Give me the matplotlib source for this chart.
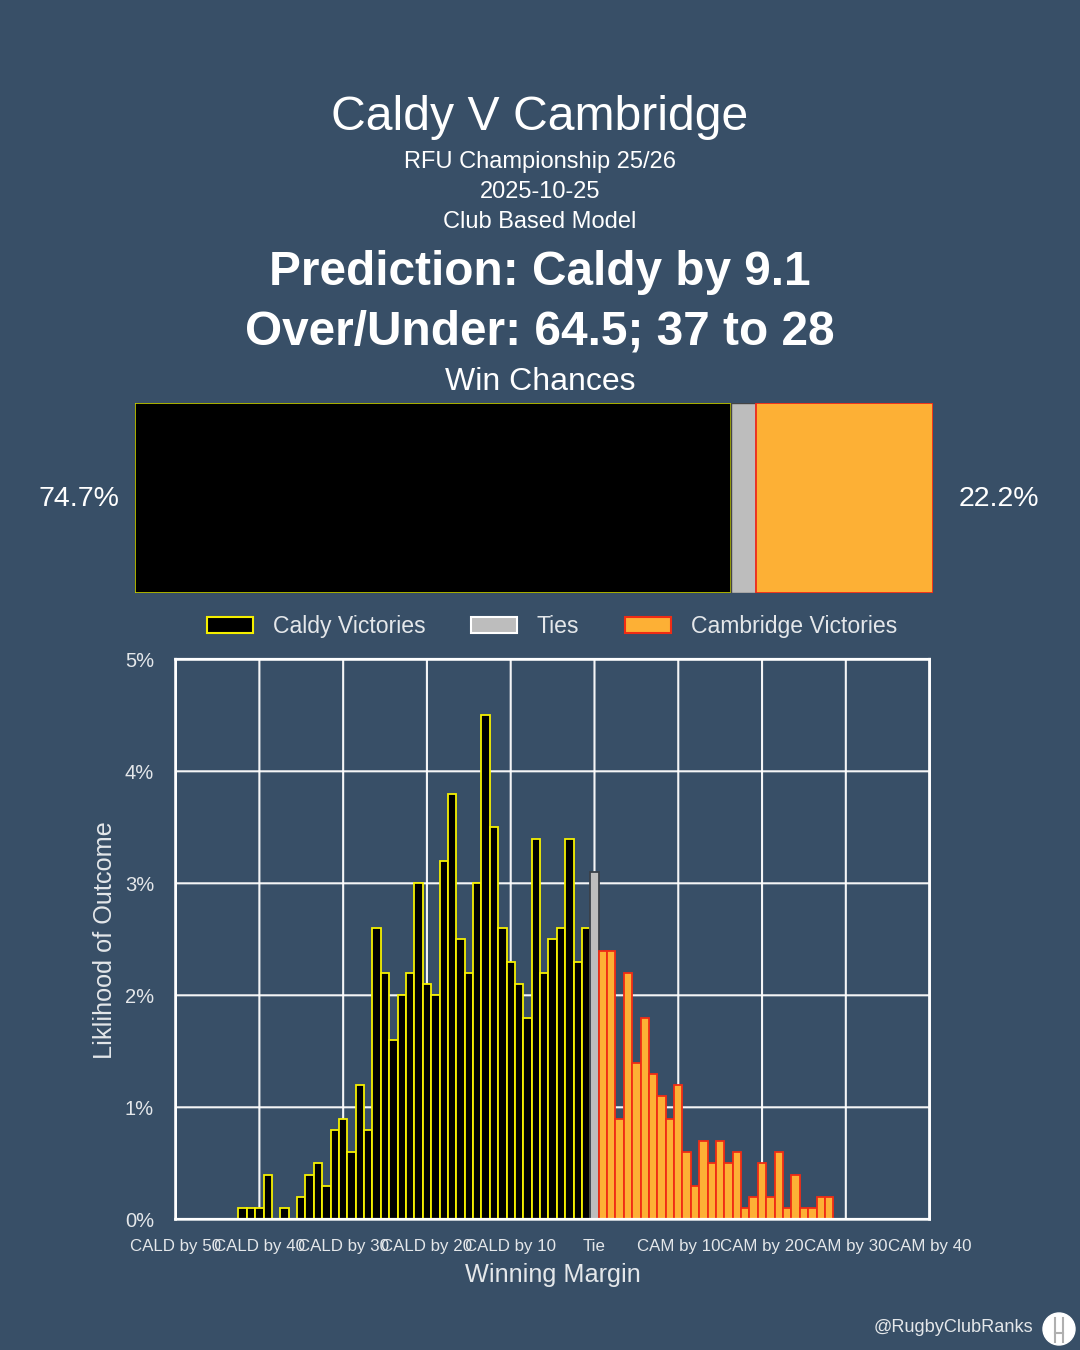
import matplotlib
matplotlib.use("Agg")
import matplotlib.pyplot as plt
from matplotlib.patches import Circle, Patch
from matplotlib.lines import Line2D

plt.rcParams['font.family'] = ['Liberation Sans', 'DejaVu Sans']

title = "Caldy V Cambridge"
subtitles = ["RFU Championship 25/26", "2025-10-25", "Club Based Model"]
headlines = ["Prediction: Caldy by 9.1", "Over/Under: 64.5; 37 to 28"]
home_name, away_name = "Caldy", "Cambridge"
home_pct, tie_pct, away_pct = 74.7, 3.1, 22.2

home_margins = list(range(-42, 0))
home_values = [0.1, 0.1, 0.1, 0.4, 0.0, 0.1, 0.0, 0.2, 0.4, 0.5, 0.3, 0.8, 0.9, 0.6,
               1.2, 0.8, 2.6, 2.2, 1.6, 2.0, 2.2, 3.0, 2.1, 2.0, 3.2, 3.8, 2.5, 2.2,
               3.0, 4.5, 3.5, 2.6, 2.3, 2.1, 1.8, 3.4, 2.2, 2.5, 2.6, 3.4, 2.3, 2.6]
tie_margin = [0]
tie_value = [3.1]
away_margins = list(range(1, 29))
away_values = [2.4, 2.4, 0.9, 2.2, 1.4, 1.8, 1.3, 1.1, 0.9, 1.2, 0.6, 0.3, 0.7, 0.5,
               0.7, 0.5, 0.6, 0.1, 0.2, 0.5, 0.2, 0.6, 0.1, 0.4, 0.1, 0.1, 0.2, 0.2]
x_ticks = [-50, -40, -30, -20, -10, 0, 10, 20, 30, 40]
x_labels = ["CALD by 50", "CALD by 40", "CALD by 30", "CALD by 20", "CALD by 10",
            "Tie", "CAM by 10", "CAM by 20", "CAM by 30", "CAM by 40"]
y_ticks = [0, 1, 2, 3, 4, 5]

BG = "#384f67"
TXT = "#ffffff"
SOFT = "#e4e7ea"
W, H = 1080, 1350

fig = plt.figure(figsize=(W / 100, H / 100), dpi=100, facecolor=BG)

def fx(px): return px / W
def fy(py): return 1 - py / H
def axes_px(l, t, r, b):
    return fig.add_axes([fx(l), fy(b), (r - l) / W, (b - t) / H])

def label(px, py, s, size, weight="normal", color=TXT, ha="center"):
    fig.text(fx(px), fy(py), s, fontsize=size, fontweight=weight, color=color,
             ha=ha, va="baseline")

label(540, 130, title, 34.7)
for py, s in zip([168, 198, 228], subtitles):
    label(540, py, s, 17.0)
for py, s in zip([285, 345], headlines):
    label(539.5, py, s, 34.4, weight="bold")
label(540, 390, "Win Chances", 23)
label(79, 506, f"{home_pct}%", 20.5)
label(999, 506, f"{away_pct}%", 20.5)

# Win chance bar
axb = axes_px(135, 403, 933, 592.5)
axb.barh([0], [home_pct], left=0, height=1, color="black", edgecolor="#c8d000", linewidth=1.2)
axb.barh([0], [tie_pct], left=home_pct, height=1, color="#bdbdbd", edgecolor="#444444", linewidth=1)
axb.barh([0], [away_pct], left=home_pct + tie_pct, height=1, color="#fdb035", edgecolor="#ee2a1a", linewidth=1.3)
axb.set_xlim(0, 100)
axb.set_ylim(-0.5, 0.5)
axb.axis("off")

# Histogram
ax = axes_px(175.6, 659.3, 929.6, 1219.3)
ax.set_facecolor("none")
ax.bar(home_margins, home_values, width=1, color="black", edgecolor="#f5f000", linewidth=1.3, zorder=3)
ax.bar(tie_margin, tie_value, width=1, color="#bdbdbd", edgecolor="#3a4048", linewidth=1.3, zorder=3)
ax.bar(away_margins, away_values, width=1, color="#fdb035", edgecolor="#f02c14", linewidth=1.3, zorder=3)
ax.set_xlim(-50, 40)
ax.set_ylim(0, 5)
ax.set_xticks(x_ticks, x_labels, fontsize=12.2, color=SOFT)
ax.set_yticks(y_ticks, [f"{v}%" for v in y_ticks], fontsize=14.5, color=SOFT)
ax.tick_params(length=0, pad=15.5, axis="y")
ax.tick_params(length=0, pad=14, axis="x")
ax.grid(True, color="white", linewidth=1.5, zorder=1, alpha=0.95)
for gl in ax.get_xgridlines() + ax.get_ygridlines():
    gl.set_snap(False)
ax.set_axisbelow(True)
for s in ax.spines.values():
    s.set_color("white")
    s.set_linewidth(2)
    s.set_zorder(4)
    s.set_snap(False)
ax.set_xlabel("Winning Margin", fontsize=18.2, color=SOFT, labelpad=6.5)
fig.text(fx(104.5), fy(940.5), "Liklihood of Outcome", rotation=90, fontsize=18.2, color=SOFT,
         ha="center", va="center")

# Legend
handles = [Patch(facecolor="black", edgecolor="#f5f000", linewidth=1.5, label=f"{home_name} Victories"),
           Patch(facecolor="#bdbdbd", edgecolor="white", linewidth=1.5, label="Ties"),
           Patch(facecolor="#fdb035", edgecolor="#f02c14", linewidth=1.5, label=f"{away_name} Victories")]
fig.legend(handles=handles, ncol=3, loc="center", bbox_to_anchor=(fx(552), fy(626.5)),
           frameon=False, fontsize=16.6, labelcolor=SOFT, handlelength=2.0, handleheight=0.75,
           handletextpad=0.85, columnspacing=1.98)

# Credit and logo
label(1033, 1332, "@RugbyClubRanks", 13.1, color=SOFT, ha="right")
axl = axes_px(1040, 1310, 1078, 1348)
axl.set_xlim(0, 38)
axl.set_ylim(38, 0)
axl.axis("off")
axl.add_patch(Circle((19, 19), 16, color="white"))
for seg in [((15, 15), (8, 32)), ((23, 23), (8, 32)), ((15, 23), (23, 23))]:
    axl.add_line(Line2D(seg[0], seg[1], color="#b0b0b0", linewidth=1.5))

fig.savefig("out.png", dpi=100, facecolor=BG)
